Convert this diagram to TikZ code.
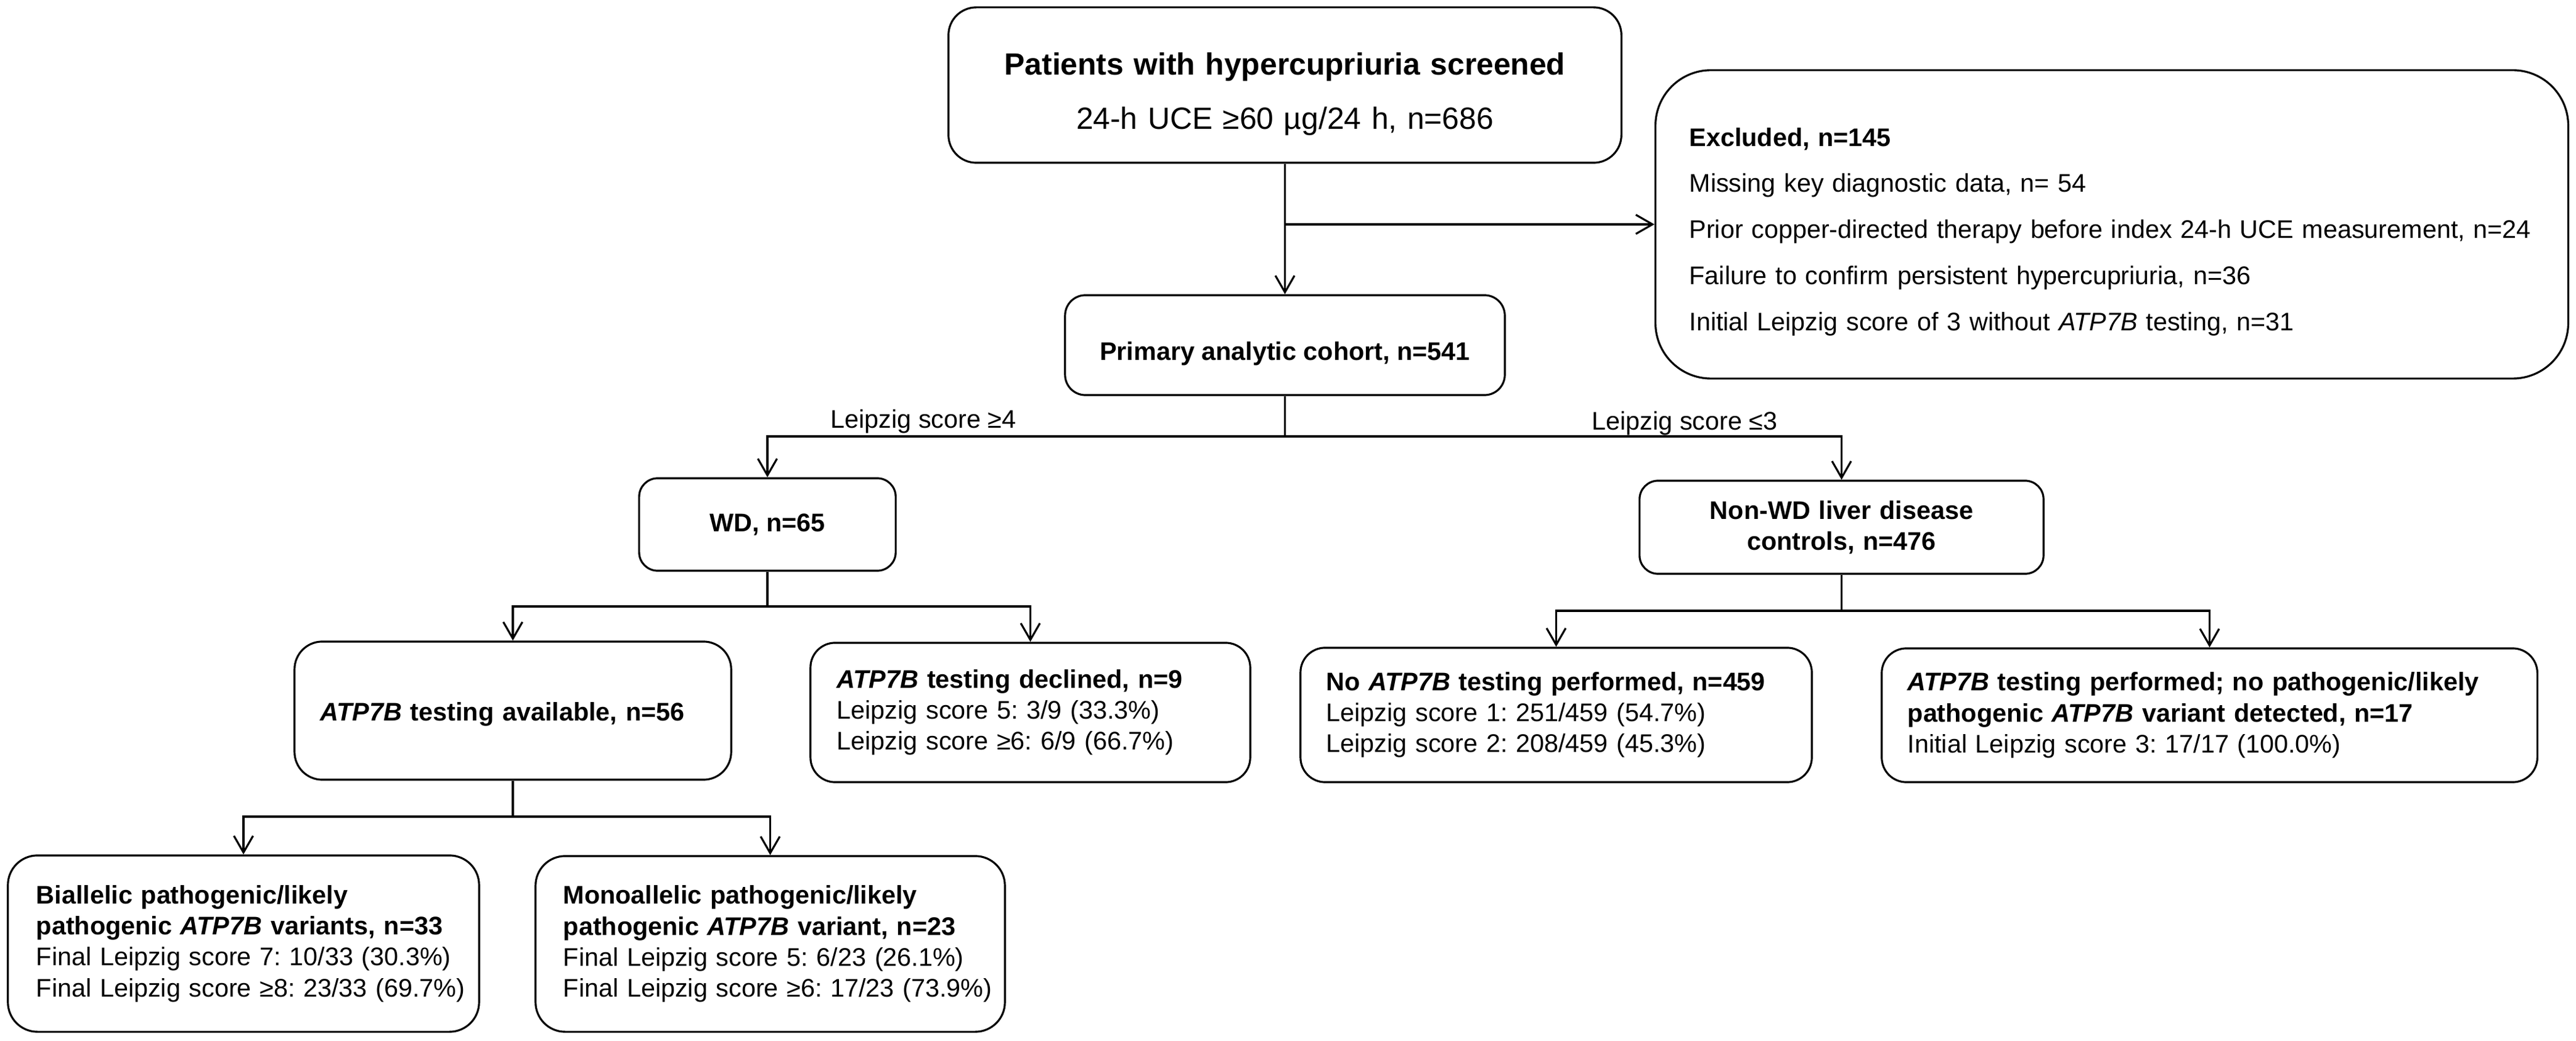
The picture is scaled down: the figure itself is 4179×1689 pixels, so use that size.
\documentclass[tikz,border=0pt]{standalone}
\usepackage{fontspec}
\setmainfont{Liberation Sans}
\usetikzlibrary{arrows.meta}
\frenchspacing

\begin{document}
\begin{tikzpicture}[
x=0.01cm, y=-0.01cm,
roundbox/.style={draw, line width=0.9pt, rounded corners=#1, inner sep=0pt,
  align=center, font=\fontsize{11.75pt}{14.3pt}\selectfont\bfseries},
roundbox/.default=0.3cm,
leftbox/.style={roundbox=#1, align=left, inner xsep=0pt,
  font=\fontsize{11.75pt}{14.3pt}\selectfont},
leftbox/.default=0.4cm,
textgap/.style={execute at begin node={\leftskip=#1}},
textgap/.default=0.42cm,
flowline/.style={line width=0.9pt},
flowarrow/.style={flowline, -{Straight Barb[length=0.27cm,width=0.31cm]}},
scorelabel/.style={inner sep=0pt, font=\fontsize{11.75pt}{14.3pt}\selectfont}]

\useasboundingbox (0,0) rectangle (4179,1689);

% screening and exclusions
\node[roundbox=0.45cm, minimum width=10.91cm, minimum height=2.52cm, text width=10.3cm,
  font=\fontsize{14.15pt}{25pt}\selectfont] (screen) at (2084.5,138)
  {\rule{0pt}{0.65cm}\textbf{Patients with hypercupriuria screened}\\
   24-h UCE ≥60 µg/24 h, n=686};
\node[leftbox=0.9cm, textgap=0.55cm, minimum height=5cm, text width=14.8cm,
  font=\fontsize{11.75pt}{21.25pt}\selectfont] (excluded) at (3426,364)
  {\rule{0pt}{0.54cm}\textbf{Excluded, n=145}\\
   Missing key diagnostic data, n= 54\\
   Prior copper-directed therapy before index 24-h UCE measurement, n=24\\
   Failure to confirm persistent hypercupriuria, n=36\\
   Initial Leipzig score of 3 without \textit{ATP7B} testing, n=31};
\node[roundbox=0.33cm, minimum width=7.13cm, minimum height=1.62cm] (cohort) at (2084.5,560)
  {\rule{0pt}{0.58cm}Primary analytic cohort, n=541};

% diagnostic groups
\node[roundbox=0.3cm, minimum width=4.16cm, minimum height=1.5cm] (wd) at (1245,851) {WD, n=65};
\node[roundbox=0.3cm, minimum width=6.55cm, minimum height=1.51cm, text width=6.2cm] (nonwd) at (2987.5,855.5)
  {Non-WD liver disease\\controls, n=476};

% genetic testing
\node[leftbox=0.45cm, textgap, minimum height=2.24cm, text width=7.08cm] (avail) at (832,1153)
  {\rule{0pt}{0.42cm}\textbf{\textit{ATP7B} testing available, n=56}};
\node[leftbox, textgap=0.43cm, minimum height=2.26cm, text width=7.13cm] (declined) at (1671.5,1156)
  {\textbf{\textit{ATP7B} testing declined, n=9}\\
   Leipzig score 5: 3/9 (33.3\%)\\
   Leipzig score ≥6: 6/9 (66.7\%)};
\node[leftbox, textgap, minimum height=2.18cm, text width=8.29cm] (notest) at (2524.5,1160)
  {\textbf{No \textit{ATP7B} testing performed, n=459}\\
   Leipzig score 1: 251/459 (54.7\%)\\
   Leipzig score 2: 208/459 (45.3\%)};
\node[leftbox, textgap, minimum height=2.17cm, text width=10.63cm] (tested) at (3584.5,1160.5)
  {\textbf{\textit{ATP7B} testing performed; no pathogenic/likely}\\
   \textbf{pathogenic \textit{ATP7B} variant detected, n=17}\\
   Initial Leipzig score 3: 17/17 (100.0\%)};

% variants
\node[leftbox=0.48cm, textgap=0.46cm, minimum height=2.86cm, text width=7.64cm] (biallelic) at (395,1531)
  {\textbf{Biallelic pathogenic/likely}\\
   \textbf{pathogenic \textit{ATP7B} variants, n=33}\\
   Final Leipzig score 7: 10/33 (30.3\%)\\
   Final Leipzig score ≥8: 23/33 (69.7\%)};
\node[leftbox=0.48cm, textgap=0.45cm, minimum height=2.85cm, text width=7.61cm] (mono) at (1249.5,1531.5)
  {\textbf{Monoallelic pathogenic/likely}\\
   \textbf{pathogenic \textit{ATP7B} variant, n=23}\\
   Final Leipzig score 5: 6/23 (26.1\%)\\
   Final Leipzig score ≥6: 17/23 (73.9\%)};

% connectors
\coordinate (excludejoin) at (screen.south |- excluded.west);
\coordinate (cohortsplit) at (2084.5,708);
\coordinate (wdsplit) at (1245,984);
\coordinate (nonwdsplit) at (2987.5,991);
\coordinate (availsplit) at (832,1325);

\draw[flowarrow] (screen.south) -- (cohort.north);
\draw[flowarrow] (excludejoin) -- (excluded.west);

\draw[flowline] (cohort.south) -- (cohortsplit);
\draw[flowarrow] (cohortsplit) -| (wd.north);
\draw[flowarrow] (cohortsplit) -| (nonwd.north);
\node[scorelabel, anchor=base east] (highscore) at (1649,695) {Leipzig score ≥4};
\node[scorelabel, anchor=base west] (lowscore) at (2582,698) {Leipzig score ≤3};

\draw[flowline] (wd.south) -- (wdsplit);
\draw[flowarrow] (wdsplit) -| (avail.north);
\draw[flowarrow] (wdsplit) -| (declined.north);

\draw[flowline] (nonwd.south) -- (nonwdsplit);
\draw[flowarrow] (nonwdsplit) -| (notest.north);
\draw[flowarrow] (nonwdsplit) -| (tested.north);

\draw[flowline] (avail.south) -- (availsplit);
\draw[flowarrow] (availsplit) -| (biallelic.north);
\draw[flowarrow] (availsplit) -| (mono.north);

\end{tikzpicture}
\end{document}
